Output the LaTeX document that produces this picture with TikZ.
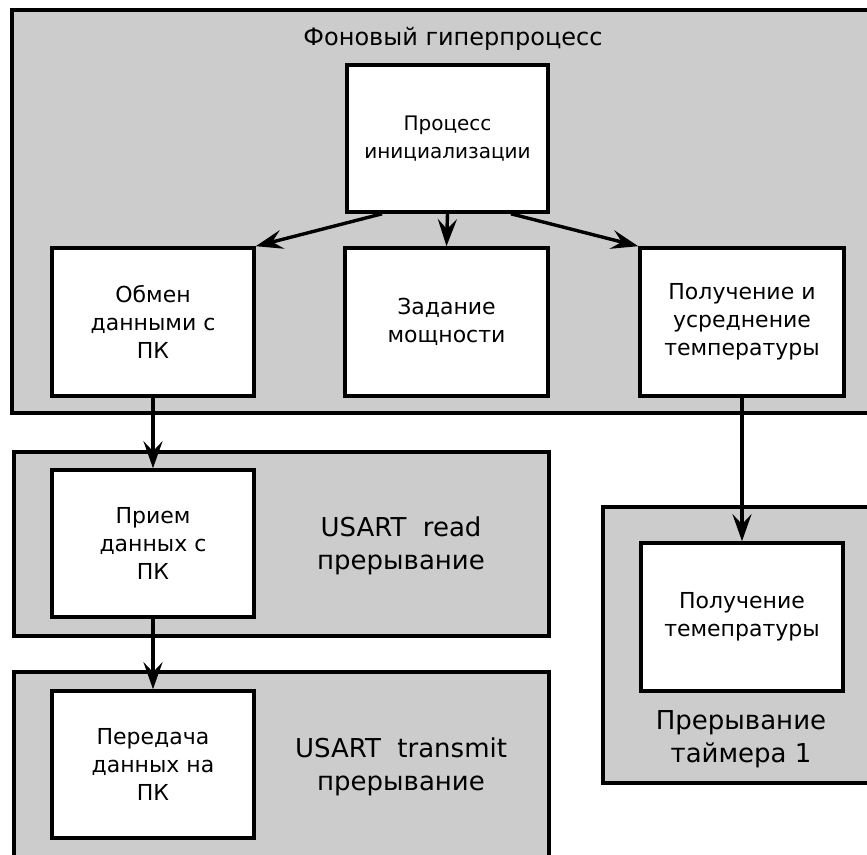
\documentclass[tikz,border=0pt]{standalone}
\usepackage{fontspec}
\setmainfont{DejaVu Sans}
\usetikzlibrary{arrows.meta,calc}
\definecolor{grp}{HTML}{CCCCCC}
\begin{document}
\begin{tikzpicture}[x=1pt,y=-1pt,
  group/.style={draw=black, line width=3.6pt, fill=grp},
  box/.style={draw=black, line width=3.6pt, fill=white, inner sep=0pt, align=center,
    font=\fontsize{22}{28}\selectfont},
  conn/.style={line width=3.4pt, -{Stealth[length=27pt,width=19pt,inset=10pt]}},
  lbl/.style={align=center, inner sep=0pt, font=\fontsize{26}{33.5}\selectfont}]
\useasboundingbox (0,0) rectangle (867,854);
\clip (0,0) rectangle (867,854);
% group frames
\draw[group] (12,10) rectangle (885,413);
\draw[group] (14,452) rectangle (549,636);
\draw[group] (14,672) rectangle (549,875);
\draw[group] (603,507) rectangle (885,783);
% labels
\node[anchor=base, inner sep=0pt, font=\fontsize{24}{28}\selectfont] (title) at (453,45) {Фоновый гиперпроцесс};
\node[lbl] (readlbl) at (401,546) {USART~~read\\прерывание};
\node[lbl] (txlbl) at (401,767) {USART~~transmit\\прерывание};
\node[lbl] (timerlbl) at (741,739) {Прерывание\\таймера 1};
% boxes
\node[box, minimum width=201pt, minimum height=147pt, font=\fontsize{20}{28}\selectfont] (init) at (447.5,138.5) {Процесс\\инициализации};
\node[box, minimum width=202pt, minimum height=148pt] (obmen) at (153,322) {Обмен\\данными с\\ПК};
\node[box, minimum width=203pt, minimum height=148pt] (zad) at (446.5,322) {Задание\\мощности};
\node[box, minimum width=204pt, minimum height=148pt] (poluch) at (742,322) {Получение и\\усреднение\\температуры};
\node[box, minimum width=202pt, minimum height=147pt] (priem) at (153,543.5) {Прием\\данных с\\ПК};
\node[box, minimum width=202pt, minimum height=147pt] (pered) at (153,764.5) {Передача\\данных на\\ПК};
\node[box, minimum width=202pt, minimum height=148pt] (temp) at (742,617) {Получение\\темепратуры};
% connectors
\coordinate (s1) at ($(init.south west)!0.18!(init.south east)$);
\coordinate (s3) at ($(init.south west)!0.81!(init.south east)$);
\draw[conn] (s1) -- (obmen.north east);
\draw[conn] (init.south) -- (zad.north);
\draw[conn] (s3) -- (poluch.north west);
\draw[conn] (obmen.south) -- (priem.north);
\draw[conn] (priem.south) -- (pered.north);
\draw[conn] (poluch.south) -- (temp.north);
\end{tikzpicture}
\end{document}
